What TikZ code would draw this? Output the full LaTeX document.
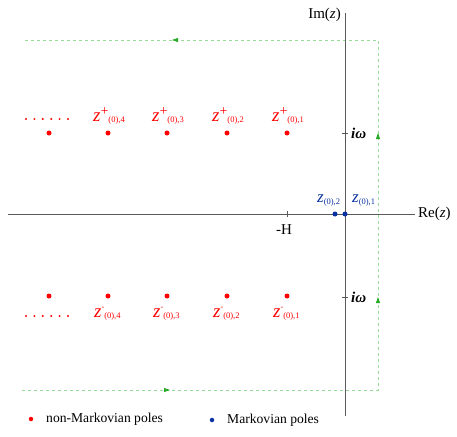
\documentclass[tikz,border=0pt]{standalone}
\usepackage{fontspec}
\setmainfont{Liberation Serif}
\usetikzlibrary{arrows.meta,decorations.markings}
\definecolor{PLred}{RGB}{255,0,0}
\definecolor{PLblue}{RGB}{10,50,160}
\definecolor{PLgreen}{RGB}{40,170,40}
\definecolor{PLlight}{RGB}{150,220,150}
\definecolor{PLaxis}{RGB}{90,90,90}
\tikzset{
  axis/.style={draw=PLaxis,line width=0.7pt},
  axlabel/.style={inner sep=0pt,font=\fontsize{15}{17}\selectfont},
  tick/.style={draw=PLaxis,line width=0.6pt},
  redpole/.style={circle,fill=PLred,inner sep=0pt,minimum size=5pt},
  bluepole/.style={circle,fill=PLblue,inner sep=0pt,minimum size=5pt},
  polelabel/.style={inner sep=0pt,anchor=base west,text=PLred},
  mlabel/.style={inner sep=0pt,anchor=base west,text=PLblue},
  legend/.style={inner sep=0pt,anchor=west,font=\fontsize{13.6}{15}\selectfont},
  contour/.style={draw=PLlight,dashed,line width=0.8pt,
    decoration={markings,
      mark=at position 148pt with {\arrow[PLgreen,solid]{Triangle[length=6pt,width=4pt]}},
      mark=at position 449pt with {\arrow[PLgreen,solid]{Triangle[length=6pt,width=4pt]}},
      mark=at position 613pt with {\arrow[PLgreen,solid]{Triangle[length=6pt,width=4pt]}},
      mark=at position 912pt with {\arrow[PLgreen,solid]{Triangle[length=6pt,width=4pt]}}},
    postaction=decorate}
}
% pole labels: z^+_(0),k and z^-_(0),k
\newcommand{\zplus}[1]{{\fontsize{19}{19}\selectfont\textit{z}}\raisebox{6pt}{\fontsize{14}{14}\selectfont +}\raisebox{-1pt}{\fontsize{8.5}{9}\selectfont (0),#1}}
\newcommand{\zminus}[1]{{\fontsize{19}{19}\selectfont\textit{z}}\raisebox{8pt}{\fontsize{8}{8}\selectfont -}\raisebox{-1pt}{\fontsize{8.5}{9}\selectfont (0),#1}}
\newcommand{\zmark}[1]{{\fontsize{17}{17}\selectfont\textit{z}}\raisebox{-2pt}{\fontsize{8.5}{9}\selectfont (0),#1}}

\begin{document}
\begin{tikzpicture}[x=1pt,y=-1pt]
  \useasboundingbox (0,0) rectangle (457,436);

  % contour
  \coordinate (cBL) at (22,390);
  \coordinate (cBR) at (378,390);
  \coordinate (cTR) at (378,40);
  \coordinate (cTL) at (25,40);
  \draw[contour] (cBL) -- (cBR) -- (cTR) -- (cTL);

  % axes
  \node[axlabel,anchor=west] (re) at (418,214) {Re(\textit{z})};
  \node[axlabel,anchor=east] (im) at (341,15) {Im(\textit{z})};
  \coordinate (reL) at (8,214);
  \coordinate (imT) at (345,13);
  \coordinate (imB) at (345,416);
  \draw[axis] (reL) -- ([xshift=-3pt]re.west);
  \draw[axis] (imT) -- (imB);

  % ticks
  \coordinate (tH) at (287,214);
  \coordinate (tU) at (345,133);
  \coordinate (tD) at (345,297);
  \draw[tick] ([yshift=-3pt]tH) -- ([yshift=3pt]tH);
  \draw[tick] ([xshift=-3pt]tU) -- ([xshift=3pt]tU);
  \draw[tick] ([xshift=-3pt]tD) -- ([xshift=3pt]tD);
  \node[axlabel] (hlab) at (284,230) {-H};
  \node[axlabel,anchor=west] (wU) at (351,133) {\textbf{\textit{iω}}};
  \node[axlabel,anchor=west] (wD) at (351,297) {\textbf{\textit{iω}}};

  % non-Markovian poles
  \foreach \k/\x in {1/287,2/227,3/167,4/108} {
    \node[redpole] (up\k) at (\x,133) {};
    \node[polelabel] (upl\k) at (\x-15,121) {\zplus{\k}};
    \node[redpole] (dn\k) at (\x,296) {};
    \node[polelabel] (dnl\k) at (\x-14,317) {\zminus{\k}};
  }
  \node[redpole] (up5) at (49,133) {};
  \node[redpole] (dn5) at (49,296) {};
  \foreach \i in {0,...,5} {
    \fill[PLred] (26+\i*8.4,119) circle (1.1pt);
    \fill[PLred] (26+\i*8.4,316) circle (1.1pt);
  }

  % Markovian poles
  \node[bluepole] (m2) at (335,214) {};
  \node[bluepole] (m1) at (345,214) {};
  \node[mlabel] (ml2) at (317,202) {\zmark{2}};
  \node[mlabel] (ml1) at (352,202) {\zmark{1}};

  % legend
  \node[redpole,minimum size=4.5pt] (kred) at (31,419) {};
  \node[legend] (tred) at (46,419) {non-Markovian poles};
  \node[bluepole,minimum size=4.5pt] (kblue) at (212,420) {};
  \node[legend] (tblue) at (227,420) {Markovian poles};
\end{tikzpicture}
\end{document}
